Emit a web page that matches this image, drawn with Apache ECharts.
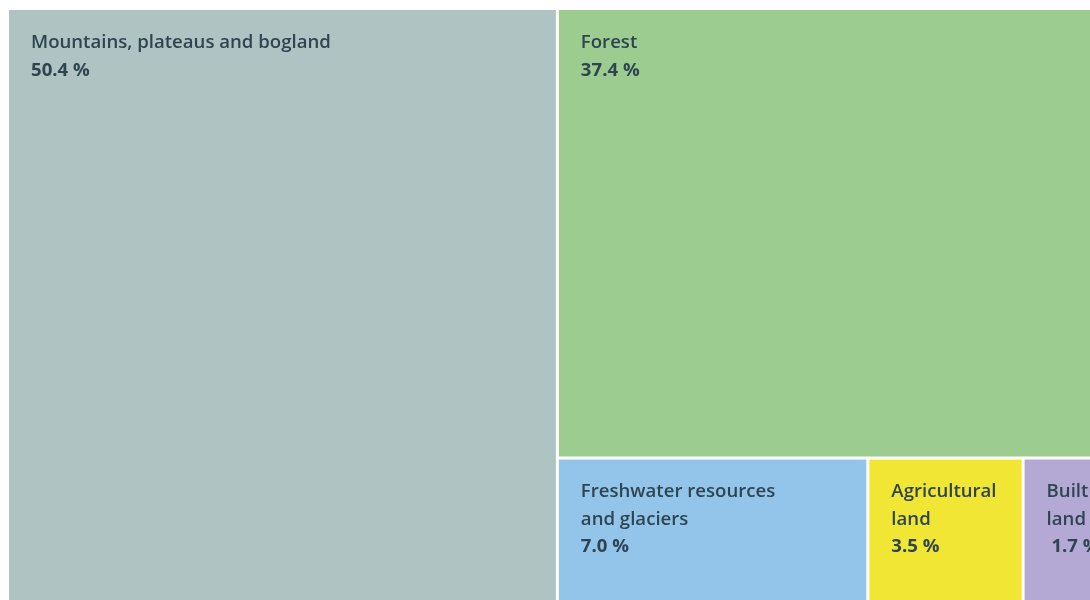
<!DOCTYPE html>
<html>
<head>
<meta charset="utf-8">
<style>
html,body{margin:0;padding:0;background:#fff;}
#chart{width:1090px;height:600px;}
</style>
<script src="https://cdn.jsdelivr.net/npm/echarts@6/dist/echarts.min.js"></script>
</head>
<body>
<div id="chart"></div>
<script>
const categories = ['Mountains, plateaus and bogland', 'Forest', 'Freshwater resources and glaciers', 'Agricultural land', 'Builtup land'];
const labelLines = ['Mountains, plateaus and bogland', 'Forest', 'Freshwater resources\nand glaciers', 'Agricultural\nland', 'Builtup\nland'];
const values = [50.4, 37.4, 7.0, 3.5, 1.7];
const valueLabels = ['50.4 %', '37.4 %', '7.0 %', '3.5 %', ' 1.7 %'];
const colors = ['#afc4c2', '#9dcc91', '#93c5ea', '#f2e634', '#b3a9d4'];

const chart = echarts.init(document.getElementById('chart'), null, {renderer: 'canvas'});
const data = categories.map((c, i) => ({
  name: c,
  value: values[i],
  itemStyle: {color: colors[i]},
  label: {formatter: '{n|' + labelLines[i].split('\n').join('}\n{n|') + '}\n{v|' + valueLabels[i] + '}'}
}));

chart.setOption({
  animation: false,
  series: [{
    type: 'treemap',
    left: 9, top: 10, width: 1088, height: 593,
    roam: false,
    nodeClick: false,
    breadcrumb: {show: false},
    squareRatio: 0.5 * (1 + Math.sqrt(5)),
    levels: [{itemStyle: {gapWidth: 3, borderWidth: 0, borderColor: '#fff'}}],
    itemStyle: {borderWidth: 0},
    label: {
      show: true,
      position: 'insideTopLeft',
      padding: [19, 0, 0, 22],
      overflow: 'none',
      fontFamily: 'Open Sans',
      color: '#2e4551',
      rich: {
        n: {fontFamily: 'Open Sans', fontSize: 18.6, lineHeight: 27.5, fontWeight: 600, color: '#2e4551'},
        v: {fontFamily: 'Open Sans', fontSize: 18.6, lineHeight: 27.5, fontWeight: 'bold', color: '#2e4551'}
      }
    },
    upperLabel: {show: false},
    data: data
  }]
});
</script>
</body>
</html>
